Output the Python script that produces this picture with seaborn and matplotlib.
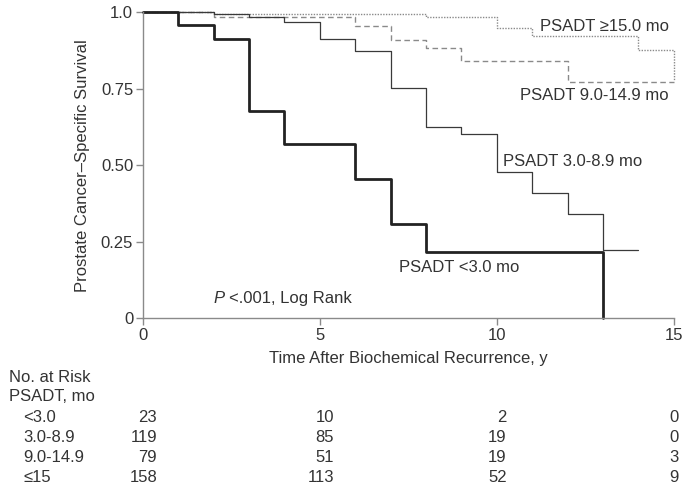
import matplotlib
matplotlib.use("Agg")
import matplotlib.pyplot as plt
import matplotlib.transforms as mtransforms
import seaborn as sns
import pandas as pd

# ---- data ----
groups = ["<3.0", "3.0-8.9", "9.0-14.9", ">=15.0"]
t_lt3 = [0, 1, 2, 3, 4, 6, 7, 8, 13]
s_lt3 = [1.0, 0.957, 0.913, 0.677, 0.569, 0.454, 0.307, 0.217, 0.0]
t_3_9 = [0, 2, 3, 4, 5, 6, 7, 8, 9, 10, 11, 12, 13, 14]
s_3_9 = [1.0, 0.995, 0.984, 0.967, 0.912, 0.873, 0.751, 0.626, 0.602, 0.477, 0.41, 0.34, 0.222, 0.222]
t_9_15 = [0, 2, 6, 7, 8, 9, 12, 15]
s_9_15 = [1.0, 0.984, 0.956, 0.909, 0.882, 0.842, 0.773, 0.773]
t_ge15 = [0, 2, 8, 10, 11, 14, 15]
s_ge15 = [1.0, 0.995, 0.984, 0.948, 0.922, 0.877, 0.775]

risk_times = [0, 5, 10, 15]
risk_labels = ["<3.0", "3.0-8.9", "9.0-14.9", "\u226415"]
risk_lt3 = [23, 10, 2, 0]
risk_3_9 = [119, 85, 19, 0]
risk_9_15 = [79, 51, 19, 3]
risk_ge15 = [158, 113, 52, 9]

curve_labels = ["PSADT <3.0 mo", "PSADT 3.0-8.9 mo", "PSADT 9.0-14.9 mo", "PSADT \u226515.0 mo"]

# ---- figure ----
sns.set_theme(style="white")
plt.rcParams["font.family"] = ["Liberation Sans", "DejaVu Sans"]
txt = "#333333"

fig = plt.figure(figsize=(6.84, 4.90), dpi=100)
ax = fig.add_axes([0.209, 0.351, 0.776, 0.624])

series = [(t_lt3, s_lt3), (t_3_9, s_3_9), (t_9_15, s_9_15), (t_ge15, s_ge15)]
styles = [
    dict(color="#222222", linewidth=2.0, linestyle="-"),
    dict(color="#3a3a3a", linewidth=0.9, linestyle="-"),
    dict(color="#8a8a8a", linewidth=1.0, linestyle=(0, (4, 2.5))),
    dict(color="#8a8a8a", linewidth=1.0, linestyle=(0, (1, 1))),
]
# draw lighter lines first so the heavy curve sits on top
order = [3, 2, 1, 0]
for i in order:
    t, s = series[i]
    df = pd.DataFrame({"time": t, "surv": s})
    sns.lineplot(data=df, x="time", y="surv", ax=ax, estimator=None,
                 drawstyle="steps-post", clip_on=False, **styles[i])

ax.set_xlim(0, 15)
ax.set_ylim(0, 1.0)
ax.set_xticks([0, 5, 10, 15])
ax.set_yticks([0, 0.25, 0.5, 0.75, 1.0])
ax.set_yticklabels(["0", "0.25", "0.50", "0.75", "1.0"])
for sp in ["top", "right"]:
    ax.spines[sp].set_visible(False)
for sp in ["left", "bottom"]:
    ax.spines[sp].set_color("#8a8a8a")
    ax.spines[sp].set_linewidth(1.0)
ax.tick_params(axis="both", direction="out", length=5, width=1.0,
               color="#8a8a8a", labelcolor=txt, labelsize=12, pad=2,
               left=True, bottom=True)
ax.set_xlabel("Time After Biochemical Recurrence, y", fontsize=12, color=txt, labelpad=6)
ax.set_ylabel("Prostate Cancer\u2013Specific Survival", fontsize=12, color=txt, labelpad=8)

# curve labels
ax.text(7.24, 0.164, curve_labels[0], fontsize=12, color=txt, va="center", ha="left")
ax.text(10.17, 0.513, curve_labels[1], fontsize=12, color=txt, va="center", ha="left")
ax.text(14.86, 0.727, curve_labels[2], fontsize=12, color=txt, va="center", ha="right")
ax.text(14.86, 0.955, curve_labels[3], fontsize=12, color=txt, va="center", ha="right")

# p-value
ax.text(2.0, 0.065, "P", fontsize=12, color=txt, style="italic", va="center", ha="left")
ax.text(2.42, 0.065, "<.001, Log Rank", fontsize=12, color=txt, va="center", ha="left")

# number at risk table
fs = 12
fig.text(9 / 684, 1 - 377 / 490, "No. at Risk", fontsize=fs, color=txt, va="center", ha="left")
fig.text(9 / 684, 1 - 396 / 490, "PSADT, mo", fontsize=fs, color=txt, va="center", ha="left")
row_y = [417, 437, 457, 477]
risk_rows = [risk_lt3, risk_3_9, risk_9_15, risk_ge15]
blend = mtransforms.blended_transform_factory(ax.transData, fig.transFigure)
col_off = [0.40, 0.40, 0.28, 0.14]
for r, (lab, vals) in enumerate(zip(risk_labels, risk_rows)):
    yy = 1 - row_y[r] / 490
    fig.text(23 / 684, yy, lab, fontsize=fs, color=txt, va="center", ha="left")
    for c, (tt, v) in enumerate(zip(risk_times, vals)):
        ax.text(tt + col_off[c], yy, str(v), transform=blend, fontsize=fs,
                color=txt, va="center", ha="right", clip_on=False)

fig.savefig("out.png", dpi=100)
